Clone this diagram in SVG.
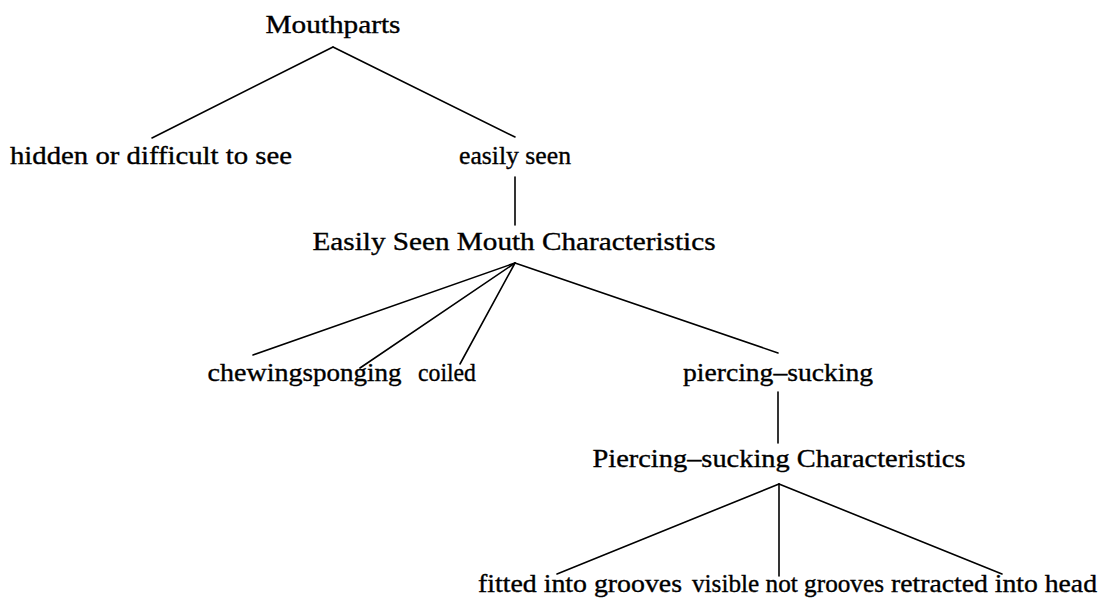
<svg xmlns="http://www.w3.org/2000/svg" width="1117" height="598" viewBox="0 0 1117 598">
  <style>
    .lbl { font-family: "Liberation Serif", "DejaVu Serif", serif; font-size: 25px; fill: #000; text-anchor: middle; stroke: #000; stroke-width: 0.35px; }
    .edge { stroke: #000; stroke-width: 1.6; fill: none; stroke-linecap: round; }
  </style>
  <rect width="1117" height="598" fill="#fff"/>

  <!-- tree edges -->
  <g id="connectors">
    <line class="edge" x1="333" y1="47" x2="152" y2="138"/>
    <line class="edge" x1="333" y1="47" x2="515" y2="137"/>
    <line class="edge" x1="515" y1="177" x2="515" y2="225"/>
    <line class="edge" x1="515" y1="263" x2="253" y2="355"/>
    <line class="edge" x1="515" y1="263" x2="360" y2="368"/>
    <line class="edge" x1="515" y1="263" x2="460" y2="364"/>
    <line class="edge" x1="515" y1="263" x2="778" y2="353"/>
    <line class="edge" x1="778" y1="392" x2="778" y2="443"/>
    <line class="edge" x1="779" y1="484" x2="557" y2="574"/>
    <line class="edge" x1="779" y1="484" x2="779" y2="576"/>
    <line class="edge" x1="779" y1="484" x2="1002" y2="574"/>
  </g>

  <g id="node-mouthparts"><text class="lbl" x="333" y="33" textLength="135" lengthAdjust="spacingAndGlyphs">Mouthparts</text></g>
  <g id="node-hidden"><text class="lbl" x="151" y="164" textLength="282" lengthAdjust="spacingAndGlyphs">hidden or difficult to see</text></g>
  <g id="node-easily-seen"><text class="lbl" x="515" y="164" textLength="112" lengthAdjust="spacingAndGlyphs">easily seen</text></g>
  <g id="node-easily-seen-chars"><text class="lbl" x="514" y="250" textLength="403" lengthAdjust="spacingAndGlyphs">Easily Seen Mouth Characteristics</text></g>
  <g id="node-chewing"><text class="lbl" x="255" y="381" textLength="95" lengthAdjust="spacingAndGlyphs">chewing</text></g>
  <g id="node-sponging"><text class="lbl" x="352" y="381" textLength="99" lengthAdjust="spacingAndGlyphs">sponging</text></g>
  <g id="node-coiled"><text class="lbl" x="447" y="381" textLength="58" lengthAdjust="spacingAndGlyphs">coiled</text></g>
  <g id="node-piercing-sucking"><text class="lbl" x="778" y="381" textLength="190" lengthAdjust="spacingAndGlyphs">piercing–sucking</text></g>
  <g id="node-piercing-chars"><text class="lbl" x="779" y="467" textLength="373" lengthAdjust="spacingAndGlyphs">Piercing–sucking Characteristics</text></g>
  <g id="node-fitted"><text class="lbl" x="580" y="592" textLength="204" lengthAdjust="spacingAndGlyphs">fitted into grooves</text></g>
  <g id="node-visible"><text class="lbl" x="788" y="592" textLength="192" lengthAdjust="spacingAndGlyphs">visible not grooves</text></g>
  <g id="node-retracted"><text class="lbl" x="994" y="592" textLength="206" lengthAdjust="spacingAndGlyphs">retracted into head</text></g>
</svg>
